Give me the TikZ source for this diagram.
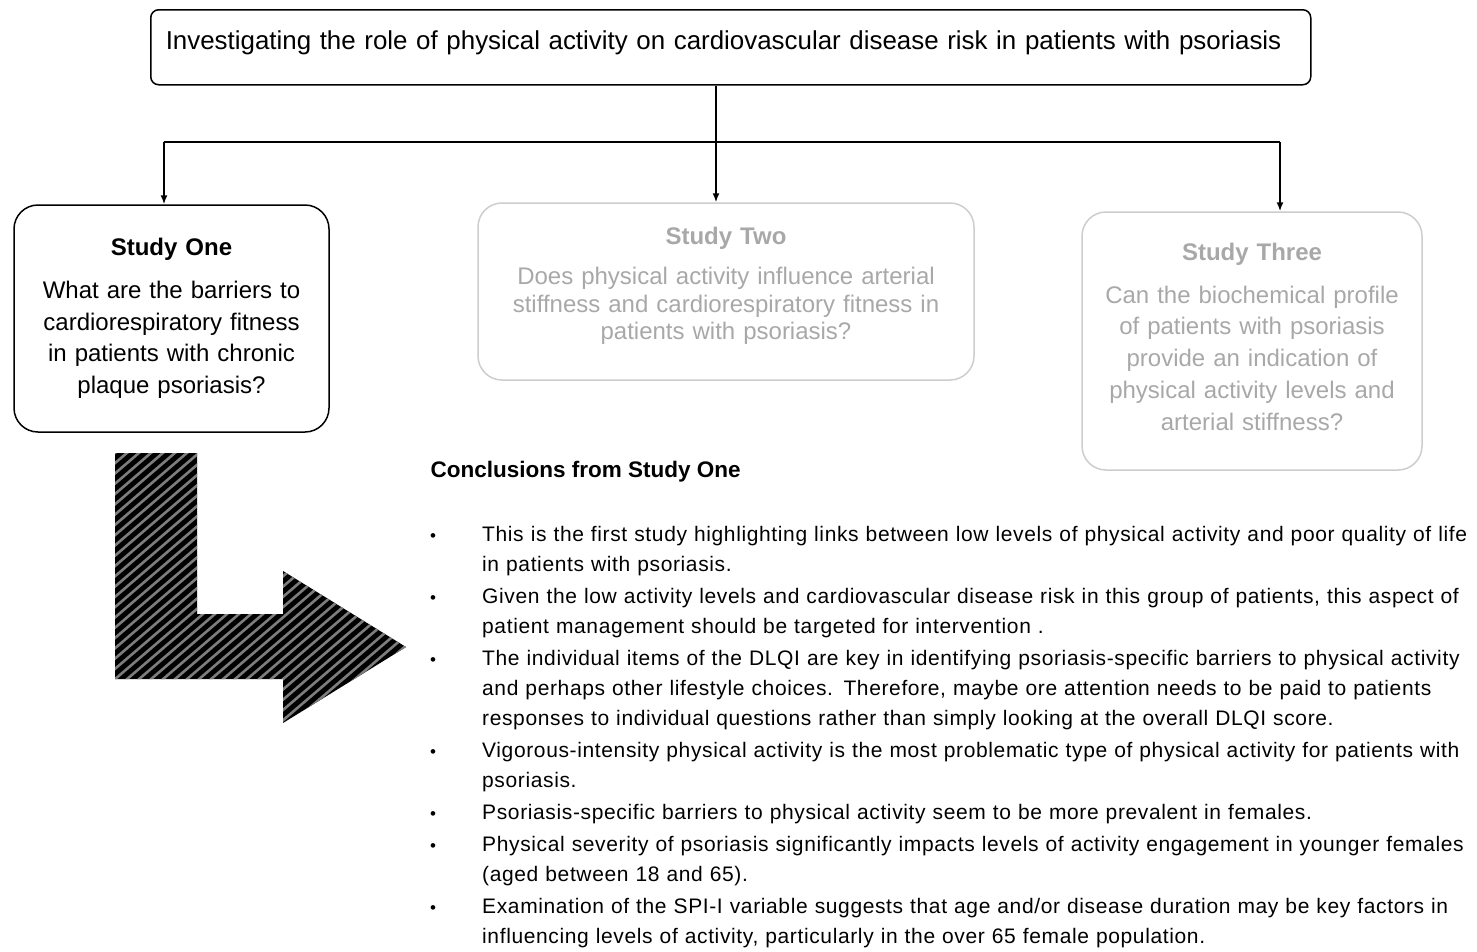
\documentclass[tikz,border=0pt]{standalone}
\usepackage{fontspec}
\setmainfont{Liberation Sans}
\newfontfamily\findfont[LetterSpace=3.0]{Liberation Sans}
\usetikzlibrary{arrows.meta}

\definecolor{fadeline}{RGB}{205,205,205}
\definecolor{fadetext}{RGB}{168,168,168}
\definecolor{hatchgray}{RGB}{125,125,125}

\newenvironment{findlist}{%
  \begin{list}{{\fontsize{17}{17}\selectfont\textbullet}}{%
    \setlength{\leftmargin}{52pt}\setlength{\labelwidth}{52pt}%
    \setlength{\labelsep}{0pt}\setlength{\itemsep}{2pt}%
    \setlength{\parsep}{0pt}\setlength{\topsep}{0pt}\setlength{\partopsep}{0pt}%
    \renewcommand{\makelabel}[1]{##1\hfil}}}%
  {\end{list}}

\tikzset{
  studybox/.style={draw, line width=1.5pt, rounded corners=24pt, align=center, inner sep=0pt},
  faded/.style={draw=fadeline, text=fadetext},
  link/.style={line width=1.6pt, -{Latex[length=9pt,width=7pt]}}
}

\begin{document}
\begin{tikzpicture}[x=1pt, y=-1pt]
    \useasboundingbox (0,0) rectangle (1477,951);
    \node[draw, line width=1.5pt, rounded corners=8pt, anchor=north west, align=left,
          text width=1130pt, inner sep=15pt, text height=25pt, text depth=20pt,
          font=\fontsize{25.9}{28}\selectfont] (goal) at (150,9)
          {Investigating the role of physical activity on cardiovascular disease risk in patients with psoriasis};

    \node[studybox, text width=315pt, minimum height=227pt, font=\fontsize{24}{31.5}\selectfont] (study1) at (171.5,318.5)
          {\textbf{Study One}\\[11.5pt] What are the barriers to\\ cardiorespiratory fitness\\ in patients with chronic\\ plaque psoriasis?\par\vspace*{7pt}};
    \node[studybox, faded, text width=496pt, minimum height=177pt, font=\fontsize{24}{27.5}\selectfont] (study2) at (726,291.5)
          {\textbf{Study Two}\\[12.5pt] Does physical activity influence arterial\\ stiffness and cardiorespiratory fitness in\\ patients with psoriasis?\par\vspace*{11pt}};
    \node[studybox, faded, text width=340pt, minimum height=258pt, font=\fontsize{24}{31.7}\selectfont] (study3) at (1252,341)
          {\textbf{Study Three}\\[11.5pt] Can the biochemical profile\\ of patients with psoriasis\\ provide an indication of\\ physical activity levels and\\ arterial stiffness?\par\vspace*{9pt}};

    \coordinate (busL) at (164,142);
    \coordinate (busM) at (716,142);
    \coordinate (busR) at (1280,142);
    \draw[line width=1.6pt] (busL) -- (busR);
    \draw[line width=1.6pt] (goal.south -| busM) -- (busM);
    \draw[link] (busL) -- (busL |- study1.north);
    \draw[link] (busM) -- (busM |- study2.north);
    \draw[link] (busR) -- (busR |- study3.north);

    % hatched elbow arrow
    \fill[black] (115,453) -- (197,453) -- (197,614) -- (283,614) -- (283,571) -- (406,647)
        -- (283,723) -- (283,679) -- (115,679) -- cycle;
    \begin{scope}
        \clip (115,453) -- (197,453) -- (197,614) -- (283,614) -- (283,571) -- (406,647)
            -- (283,723) -- (283,679) -- (115,679) -- cycle;
        \foreach \i in {-280,-268,...,420}
            \draw[hatchgray, line width=2.6pt] (\i,740) -- ++(350,-300);
    \end{scope}

    \node[anchor=base west, font=\bfseries\fontsize{22.5}{25}\selectfont] (concl) at (427,477) {Conclusions from Study One};
    \node[anchor=north west, text width=1060pt, inner sep=0pt, align=left,
          font=\findfont\fontsize{21}{30}\selectfont] (findings) at (430,511) {%
        \begin{findlist}
        \item This is the first study highlighting links between low levels of physical activity and poor quality of life\\
              in patients with psoriasis.
        \item Given the low activity levels and cardiovascular disease risk in this group of patients, this aspect of\\
              patient management should be targeted for intervention .
        \item The individual items of the DLQI are key in identifying psoriasis-specific barriers to physical activity\\
              and perhaps other lifestyle choices. Therefore, maybe ore attention needs to be paid to patients\\
              responses to individual questions rather than simply looking at the overall DLQI score.
        \item Vigorous-intensity physical activity is the most problematic type of physical activity for patients with\\
              psoriasis.
        \item Psoriasis-specific barriers to physical activity seem to be more prevalent in females.
        \item Physical severity of psoriasis significantly impacts levels of activity engagement in younger females\\
              (aged between 18 and 65).
        \item Examination of the SPI-I variable suggests that age and/or disease duration may be key factors in\\
              influencing levels of activity, particularly in the over 65 female population.
        \end{findlist}};
\end{tikzpicture}
\end{document}
